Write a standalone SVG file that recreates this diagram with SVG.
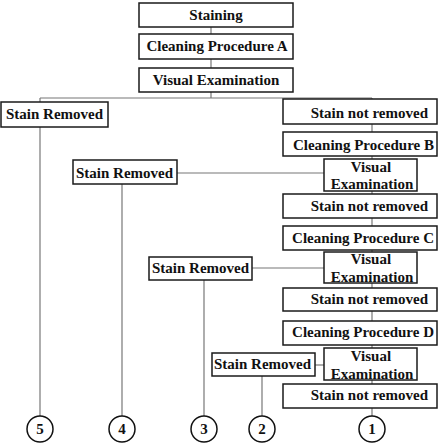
<svg xmlns="http://www.w3.org/2000/svg" width="443" height="447" viewBox="0 0 443 447">
<style>
.b{fill:#fff;stroke:#1a1a1a;stroke-width:1.5}
.t{font-family:"Liberation Serif","Times New Roman",serif;font-weight:bold;font-size:15px;fill:#111}
.m{text-anchor:middle}
.e{text-anchor:end}
.c{fill:#fff;stroke:#111;stroke-width:1.5}
#connectors line{stroke:#777;stroke-width:1.2}
</style>
<rect width="443" height="447" fill="#fff"/>
<g id="connectors">
<line x1="211" y1="27" x2="211" y2="34"/>
<line x1="211" y1="59" x2="211" y2="68"/>
<line x1="211" y1="92" x2="211" y2="98"/>
<line x1="40" y1="98" x2="372" y2="98"/>
<line x1="40" y1="98" x2="40" y2="102"/>
<line x1="372" y1="98" x2="372" y2="99"/>
<line x1="40" y1="127" x2="40" y2="416"/>
<line x1="372" y1="124" x2="372" y2="132"/>
<line x1="372" y1="156" x2="372" y2="159"/>
<line x1="372" y1="191" x2="372" y2="194"/>
<line x1="372" y1="218" x2="372" y2="226"/>
<line x1="372" y1="250" x2="372" y2="252"/>
<line x1="372" y1="283" x2="372" y2="288"/>
<line x1="372" y1="311" x2="372" y2="321"/>
<line x1="372" y1="345" x2="372" y2="348"/>
<line x1="372" y1="380" x2="372" y2="384"/>
<line x1="372" y1="408" x2="372" y2="416"/>
<line x1="177" y1="173" x2="324" y2="173"/>
<line x1="252" y1="268" x2="324" y2="268"/>
<line x1="315" y1="365" x2="324" y2="365"/>
<line x1="122" y1="184" x2="122" y2="416"/>
<line x1="204" y1="280" x2="204" y2="416"/>
<line x1="262" y1="376" x2="262" y2="416"/>
</g>
<g id="staining"><rect class="b" x="139" y="3" width="154" height="24"/><text class="t m" x="216" y="20">Staining</text></g>
<g id="cleanA"><rect class="b" x="139" y="34" width="154" height="25"/><text class="t m" x="217" y="51">Cleaning Procedure A</text></g>
<g id="visual1"><rect class="b" x="139" y="68" width="154" height="24"/><text class="t m" x="216" y="85">Visual Examination</text></g>
<g id="removed1"><rect class="b" x="1" y="102" width="107" height="25"/><text class="t" x="6" y="119">Stain Removed</text></g>
<g id="notremoved1"><rect class="b" x="283" y="99" width="154" height="25"/><text class="t e" x="428" y="118">Stain not removed</text></g>
<g id="cleanB"><rect class="b" x="283" y="132" width="154" height="24"/><text class="t e" x="434" y="150">Cleaning Procedure B</text></g>
<g id="visual2"><rect class="b" x="324" y="159" width="93" height="32"/><text class="t m" x="371" y="172">Visual</text><text class="t m" x="372" y="189">Examination</text></g>
<g id="removed2"><rect class="b" x="73" y="160" width="104" height="24"/><text class="t" x="76" y="178">Stain Removed</text></g>
<g id="notremoved2"><rect class="b" x="283" y="194" width="154" height="24"/><text class="t e" x="428" y="211">Stain not removed</text></g>
<g id="cleanC"><rect class="b" x="283" y="226" width="154" height="24"/><text class="t e" x="434" y="243">Cleaning Procedure C</text></g>
<g id="visual3"><rect class="b" x="324" y="252" width="93" height="31"/><text class="t m" x="371" y="264">Visual</text><text class="t m" x="372" y="282">Examination</text></g>
<g id="removed3"><rect class="b" x="149" y="257" width="103" height="23"/><text class="t" x="152" y="273">Stain Removed</text></g>
<g id="notremoved3"><rect class="b" x="283" y="288" width="154" height="23"/><text class="t e" x="428" y="304">Stain not removed</text></g>
<g id="cleanD"><rect class="b" x="283" y="321" width="154" height="24"/><text class="t e" x="434" y="337">Cleaning Procedure D</text></g>
<g id="visual4"><rect class="b" x="324" y="348" width="93" height="32"/><text class="t m" x="371" y="361">Visual</text><text class="t m" x="372" y="379">Examination</text></g>
<g id="removed4"><rect class="b" x="212" y="353" width="103" height="23"/><text class="t" x="214" y="369">Stain Removed</text></g>
<g id="notremoved4"><rect class="b" x="283" y="384" width="154" height="24"/><text class="t e" x="428" y="400">Stain not removed</text></g>
<g id="end5"><circle class="c" cx="40" cy="429" r="13"/><text class="t m" x="40" y="434">5</text></g>
<g id="end4"><circle class="c" cx="122" cy="429" r="13"/><text class="t m" x="122" y="434">4</text></g>
<g id="end3"><circle class="c" cx="204" cy="429" r="13"/><text class="t m" x="204" y="434">3</text></g>
<g id="end2"><circle class="c" cx="262" cy="429" r="13"/><text class="t m" x="262" y="434">2</text></g>
<g id="end1"><circle class="c" cx="372" cy="429" r="13"/><text class="t m" x="372" y="434">1</text></g>
</svg>
